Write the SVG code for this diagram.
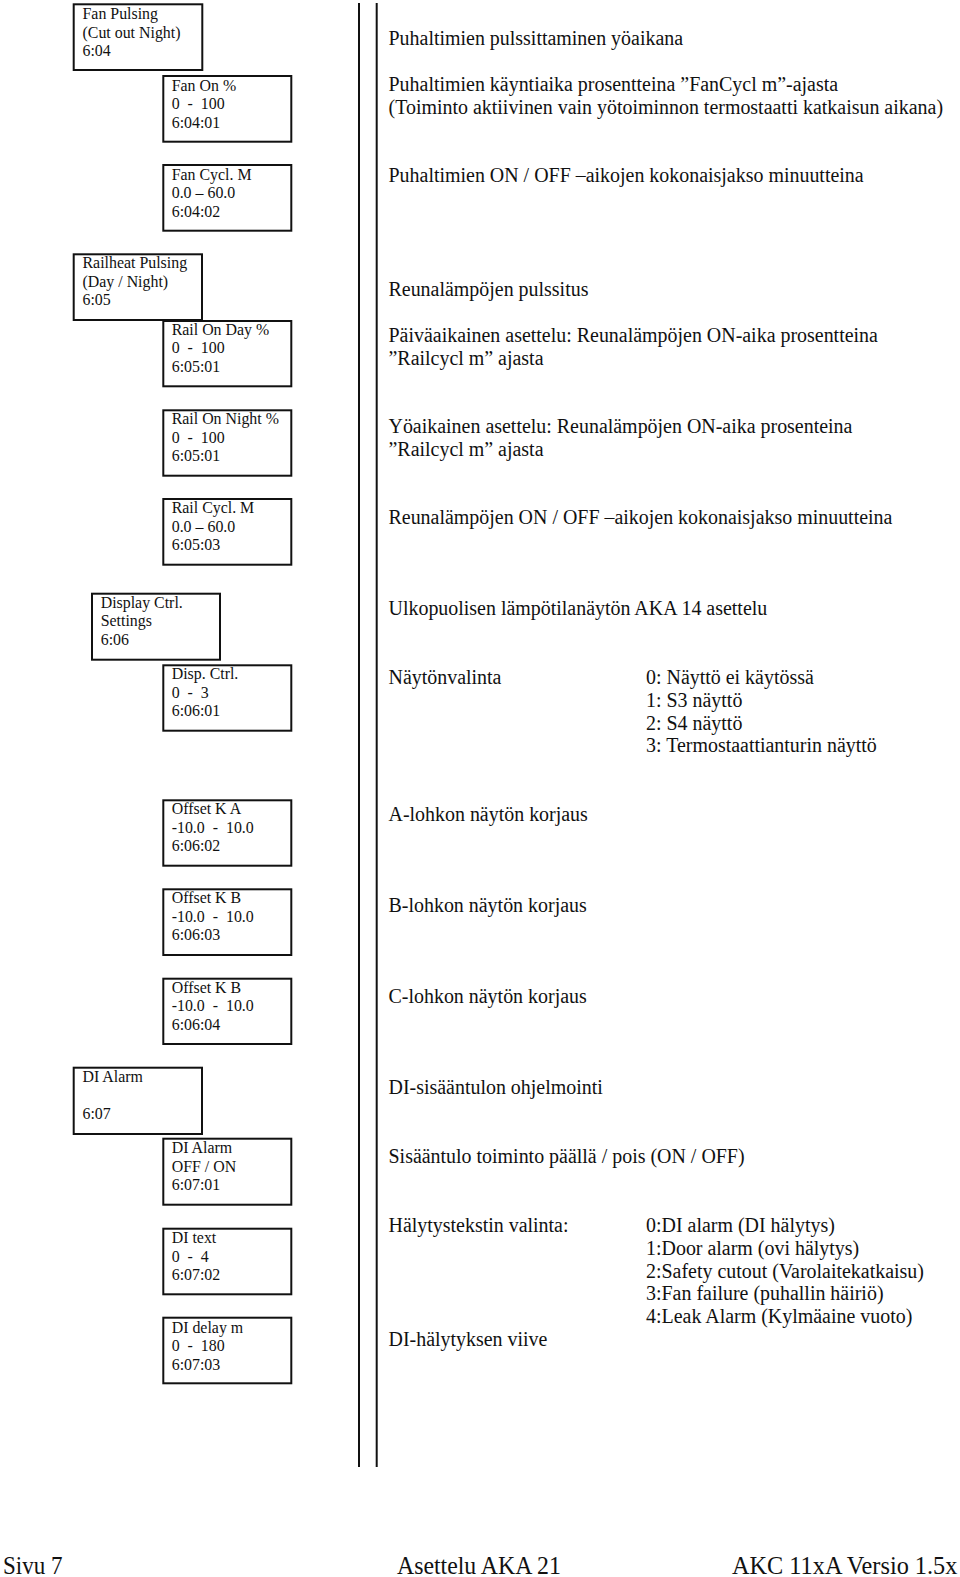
<svg xmlns="http://www.w3.org/2000/svg" width="960" height="1577" viewBox="0 0 960 1577">
<style>
.box{fill:#fff;stroke:#111;stroke-width:2}
.bt{font-family:"Liberation Serif","Times New Roman",serif;font-size:15.9px;fill:#111;white-space:pre}
.dt{font-family:"Liberation Serif","Times New Roman",serif;font-size:19.95px;fill:#111}
.ft{font-family:"Liberation Serif","Times New Roman",serif;font-size:23.8px;fill:#111}
.sep{stroke:#111;stroke-width:2;fill:none}
</style>
<rect width="960" height="1577" fill="#fff"/>
<g id="connectors">
<line class="sep" x1="359" y1="3" x2="359" y2="1467"/>
<line class="sep" x1="376.7" y1="3" x2="376.7" y2="1467"/>
</g>
<g id="n604">
<rect class="box" x="73.7" y="4.3" width="128.6" height="65.7"/>
<text class="bt" x="82.5" y="19.3">Fan Pulsing<tspan x="82.5" dy="18.4">(Cut out Night)</tspan><tspan x="82.5" dy="18.4">6:04</tspan></text>
</g>
<g id="n60401">
<rect class="box" x="163.3" y="76" width="128" height="65.7"/>
<text class="bt" x="171.7" y="90.7">Fan On %<tspan x="171.7" dy="18.4">0  -  100</tspan><tspan x="171.7" dy="18.4">6:04:01</tspan></text>
</g>
<g id="n60402">
<rect class="box" x="163.3" y="165" width="128" height="65.7"/>
<text class="bt" x="171.7" y="180">Fan Cycl. M<tspan x="171.7" dy="18.4">0.0 – 60.0</tspan><tspan x="171.7" dy="18.4">6:04:02</tspan></text>
</g>
<g id="n605">
<rect class="box" x="73.7" y="254.3" width="128.3" height="65.7"/>
<text class="bt" x="82.5" y="268.3">Railheat Pulsing<tspan x="82.5" dy="18.4">(Day / Night)</tspan><tspan x="82.5" dy="18.4">6:05</tspan></text>
</g>
<g id="n60501">
<rect class="box" x="163.3" y="321" width="128" height="65.3"/>
<text class="bt" x="171.7" y="335">Rail On Day %<tspan x="171.7" dy="18.4">0  -  100</tspan><tspan x="171.7" dy="18.4">6:05:01</tspan></text>
</g>
<g id="n60501b">
<rect class="box" x="163.3" y="410.3" width="128" height="65.4"/>
<text class="bt" x="171.7" y="424.3">Rail On Night %<tspan x="171.7" dy="18.4">0  -  100</tspan><tspan x="171.7" dy="18.4">6:05:01</tspan></text>
</g>
<g id="n60503">
<rect class="box" x="163.3" y="499" width="128" height="65.7"/>
<text class="bt" x="171.7" y="513.3">Rail Cycl. M<tspan x="171.7" dy="18.4">0.0 – 60.0</tspan><tspan x="171.7" dy="18.4">6:05:03</tspan></text>
</g>
<g id="n606">
<rect class="box" x="92" y="593.7" width="128" height="66"/>
<text class="bt" x="100.7" y="607.7">Display Ctrl.<tspan x="100.7" dy="18.4">Settings</tspan><tspan x="100.7" dy="18.4">6:06</tspan></text>
</g>
<g id="n60601">
<rect class="box" x="163.3" y="665.3" width="128" height="65.4"/>
<text class="bt" x="171.7" y="679.3">Disp. Ctrl.<tspan x="171.7" dy="18.4">0  -  3</tspan><tspan x="171.7" dy="18.4">6:06:01</tspan></text>
</g>
<g id="n60602">
<rect class="box" x="163.3" y="800.3" width="128" height="65.4"/>
<text class="bt" x="171.7" y="814.3">Offset K A<tspan x="171.7" dy="18.4">-10.0  -  10.0</tspan><tspan x="171.7" dy="18.4">6:06:02</tspan></text>
</g>
<g id="n60603">
<rect class="box" x="163.3" y="889.3" width="128" height="65.7"/>
<text class="bt" x="171.7" y="903.3">Offset K B<tspan x="171.7" dy="18.4">-10.0  -  10.0</tspan><tspan x="171.7" dy="18.4">6:06:03</tspan></text>
</g>
<g id="n60604">
<rect class="box" x="163.3" y="978.7" width="128" height="65.3"/>
<text class="bt" x="171.7" y="992.7">Offset K B<tspan x="171.7" dy="18.4">-10.0  -  10.0</tspan><tspan x="171.7" dy="18.4">6:06:04</tspan></text>
</g>
<g id="n607">
<rect class="box" x="73.7" y="1067.7" width="128.3" height="66.3"/>
<text class="bt" x="82.5" y="1082.3">DI Alarm<tspan x="82.5" dy="36.8">6:07</tspan></text>
</g>
<g id="n60701">
<rect class="box" x="163.3" y="1138.7" width="128" height="66"/>
<text class="bt" x="171.7" y="1153.3">DI Alarm<tspan x="171.7" dy="18.4">OFF / ON</tspan><tspan x="171.7" dy="18.4">6:07:01</tspan></text>
</g>
<g id="n60702">
<rect class="box" x="163.3" y="1228.7" width="128" height="65.6"/>
<text class="bt" x="171.7" y="1243.3">DI text<tspan x="171.7" dy="18.4">0  -  4</tspan><tspan x="171.7" dy="18.4">6:07:02</tspan></text>
</g>
<g id="n60703">
<rect class="box" x="163.3" y="1317.7" width="128" height="65.6"/>
<text class="bt" x="171.7" y="1332.7">DI delay m<tspan x="171.7" dy="18.4">0  -  180</tspan><tspan x="171.7" dy="18.4">6:07:03</tspan></text>
</g>
<g id="descriptions">
<text class="dt" x="388.5" y="45">Puhaltimien pulssittaminen yöaikana</text>
<text class="dt" x="388.5" y="90.5">Puhaltimien käyntiaika prosentteina ”FanCycl m”-ajasta<tspan x="388.5" dy="23">(Toiminto aktiivinen vain yötoiminnon termostaatti katkaisun aikana)</tspan></text>
<text class="dt" x="388.5" y="182">Puhaltimien ON / OFF –aikojen kokonaisjakso minuutteina</text>
<text class="dt" x="388.5" y="295.6">Reunalämpöjen pulssitus</text>
<text class="dt" x="388.5" y="342">Päiväaikainen asettelu: Reunalämpöjen ON-aika prosentteina<tspan x="388.5" dy="23">”Railcycl m” ajasta</tspan></text>
<text class="dt" x="388.5" y="433.4">Yöaikainen asettelu: Reunalämpöjen ON-aika prosenteina<tspan x="388.5" dy="23">”Railcycl m” ajasta</tspan></text>
<text class="dt" x="388.5" y="524">Reunalämpöjen ON / OFF –aikojen kokonaisjakso minuutteina</text>
<text class="dt" x="388.5" y="615.4">Ulkopuolisen lämpötilanäytön AKA 14 asettelu</text>
<text class="dt" x="388.5" y="684">Näytönvalinta</text>
<text class="dt" x="646" y="684">0: Näyttö ei käytössä<tspan x="646" dy="23">1: S3 näyttö</tspan><tspan x="646" dy="22.7">2: S4 näyttö</tspan><tspan x="646" dy="22.7">3: Termostaattianturin näyttö</tspan></text>
<text class="dt" x="388.5" y="820.6">A-lohkon näytön korjaus</text>
<text class="dt" x="388.5" y="912">B-lohkon näytön korjaus</text>
<text class="dt" x="388.5" y="1002.6">C-lohkon näytön korjaus</text>
<text class="dt" x="388.5" y="1094">DI-sisääntulon ohjelmointi</text>
<text class="dt" x="388.5" y="1162.6">Sisääntulo toiminto päällä / pois (ON / OFF)</text>
<text class="dt" x="388.5" y="1232">Hälytystekstin valinta:</text>
<text class="dt" x="646" y="1232">0:DI alarm (DI hälytys)<tspan x="646" dy="22.8">1:Door alarm (ovi hälytys)</tspan><tspan x="646" dy="22.8">2:Safety cutout (Varolaitekatkaisu)</tspan><tspan x="646" dy="22.8">3:Fan failure (puhallin häiriö)</tspan><tspan x="646" dy="22.8">4:Leak Alarm (Kylmäaine vuoto)</tspan></text>
<text class="dt" x="388.5" y="1345.6">DI-hälytyksen viive</text>
</g>
<g id="footer" transform="scale(1,1.07)">
<text class="ft" x="3" y="1471" style="font-size:23px">Sivu 7</text>
<text class="ft" x="397" y="1471">Asettelu AKA 21</text>
<text class="ft" x="732" y="1471" style="font-size:24.3px">AKC 11xA Versio 1.5x</text>
</g>
</svg>
